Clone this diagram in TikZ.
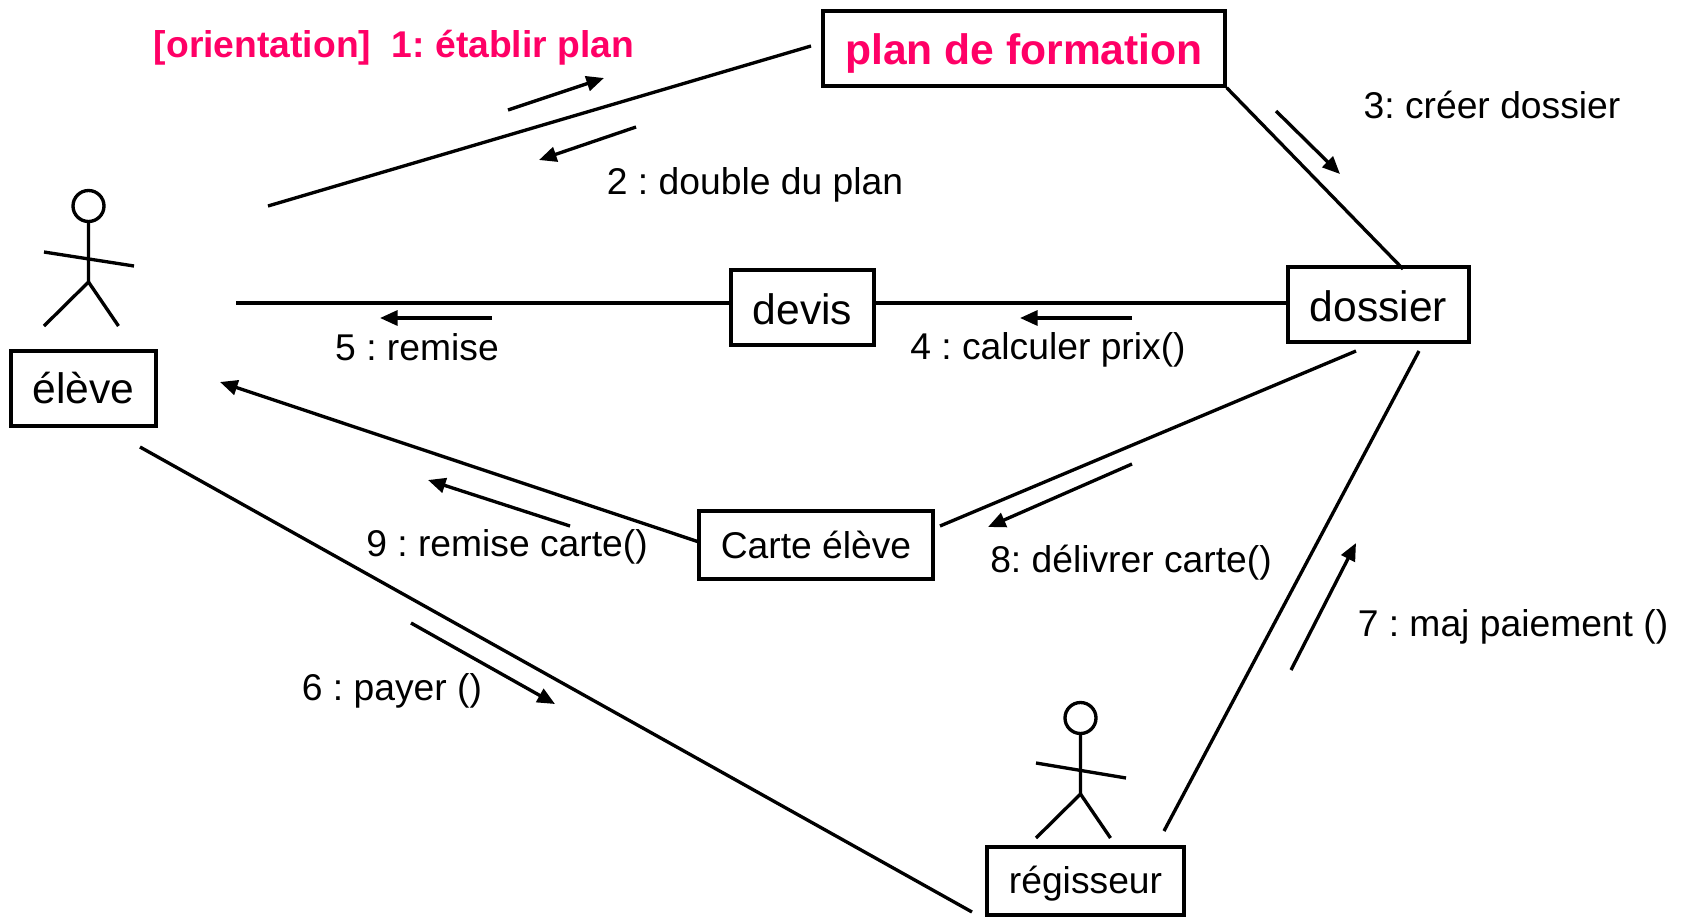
\documentclass[tikz,border=0pt]{standalone}
\usepackage{fontspec}
\usepackage{xcolor}
\usetikzlibrary{arrows.meta}
\setmainfont{Liberation Sans}
\frenchspacing
\definecolor{planpink}{HTML}{FF0066}
\tikzset{
	wire/.style={line width=1.9pt},
	msg/.style={line width=1.9pt, -{Triangle[length=10pt, width=8.5pt]}},
	box/.style={draw, line width=1.9pt, inner sep=0pt, align=center},
	bigtext/.style={font=\fontsize{24.25}{28}\selectfont},
	smalltext/.style={font=\fontsize{21.2}{25}\selectfont},
}

\begin{document}
\begin{tikzpicture}[x=0.02cm, y=-0.02cm]
	\useasboundingbox (0, 0) rectangle (1687, 920);
	% Boxes:
	\node[box, bigtext, text=planpink, text height=23pt, minimum width=8.04cm, minimum height=1.5cm](plan) at (1024, 48.5){\textbf{plan de formation}};
	\node[box, bigtext, text height=19.7pt, minimum width=3.62cm, minimum height=1.5cm](dossier) at (1378.5, 304.5){dossier};
	\node[box, bigtext, text height=19.7pt, minimum width=2.86cm, minimum height=1.5cm](devis) at (802.5, 307.5){devis};
	\node[box, bigtext, minimum width=2.9cm, minimum height=1.5cm](eleve) at (83.5, 388.5){élève};
	\node[box, smalltext, minimum width=4.68cm, minimum height=1.36cm](carte) at (816, 545){Carte élève};
	\node[box, smalltext, text height=19pt, minimum width=3.94cm, minimum height=1.36cm](regisseur) at (1085.5, 881){régisseur};
	% Free ends of the wires:
	\coordinate (E1) at (268, 206);
	\coordinate (P1) at (811, 46);
	\coordinate (D1) at (1403, 269);
	\coordinate (E2) at (236, 303);
	\coordinate (D2) at (1356, 351);
	\coordinate (C2) at (940, 526);
	\coordinate (C3) at (699, 542);
	\coordinate (E3) at (220, 382);
	\coordinate (E4) at (140, 447);
	\coordinate (R4) at (972, 912);
	\coordinate (D5) at (1419, 351);
	\coordinate (R5) at (1164, 831);
	% Wires:
	\draw[wire] (E1) -- (P1);
	\draw[wire] (plan.south east) -- (D1);
	\draw[wire] (E2) -- (devis.west |- E2);
	\draw[wire] (devis.east |- E2) -- (dossier.west |- E2);
	\draw[wire] (D2) -- (C2);
	\draw[msg] (C3) -- (E3);
	\draw[wire] (E4) -- (R4);
	\draw[wire] (D5) -- (R5);
	% Message arrows:
	\coordinate (M1a) at (508, 110);
	\coordinate (M1b) at (604, 78);
	\draw[msg] (M1a) -- (M1b);
	\coordinate (M2a) at (636, 127);
	\coordinate (M2b) at (539, 160);
	\draw[msg] (M2a) -- (M2b);
	\coordinate (M3a) at (1276, 111);
	\coordinate (M3b) at (1340, 174);
	\draw[msg] (M3a) -- (M3b);
	\coordinate (M4a) at (1132, 318);
	\coordinate (M4b) at (1020, 318);
	\draw[msg] (M4a) -- (M4b);
	\coordinate (M5a) at (492, 318);
	\coordinate (M5b) at (380, 318);
	\draw[msg] (M5a) -- (M5b);
	\coordinate (M6a) at (411, 623);
	\coordinate (M6b) at (555, 704);
	\draw[msg] (M6a) -- (M6b);
	\coordinate (M7a) at (1291, 670);
	\coordinate (M7b) at (1356, 543);
	\draw[msg] (M7a) -- (M7b);
	\coordinate (M8a) at (1132, 464);
	\coordinate (M8b) at (988, 527);
	\draw[msg] (M8a) -- (M8b);
	\coordinate (M9a) at (570, 526);
	\coordinate (M9b) at (428, 480);
	\draw[msg] (M9a) -- (M9b);
	% Labels:
	\node[smalltext, text=planpink](L1) at (394, 48){\textbf{[orientation]\ \ 1: établir plan}};
	\node[smalltext](L2) at (755, 185){2 : double du plan};
	\node[smalltext](L3) at (1492, 105){3: créer dossier};
	\node[smalltext](L4) at (1048, 350){4 : calculer prix()};
	\node[smalltext](L5) at (417, 347){5 : remise};
	\node[smalltext](L6) at (392, 691){6 : payer ()};
	\node[smalltext](L7) at (1513, 627){7 : maj paiement ()};
	\node[smalltext](L8) at (1131, 563){8: délivrer carte()};
	\node[smalltext](L9) at (507, 547){9 : remise carte()};
	% Actors:
	\draw[wire] (88.5, 206) circle (15.5);
	\draw[wire] (88.5, 221.5) -- (88.5, 282) -- (44, 326);
	\draw[wire] (88.5, 282) -- (118.5, 326);
	\draw[wire] (44, 252) -- (134, 266);
	\draw[wire] (1080.5, 718) circle (15.5);
	\draw[wire] (1080.5, 733.5) -- (1080.5, 794) -- (1036, 838);
	\draw[wire] (1080.5, 794) -- (1110.5, 838);
	\draw[wire] (1036, 763) -- (1126, 778);
\end{tikzpicture}
\end{document}
